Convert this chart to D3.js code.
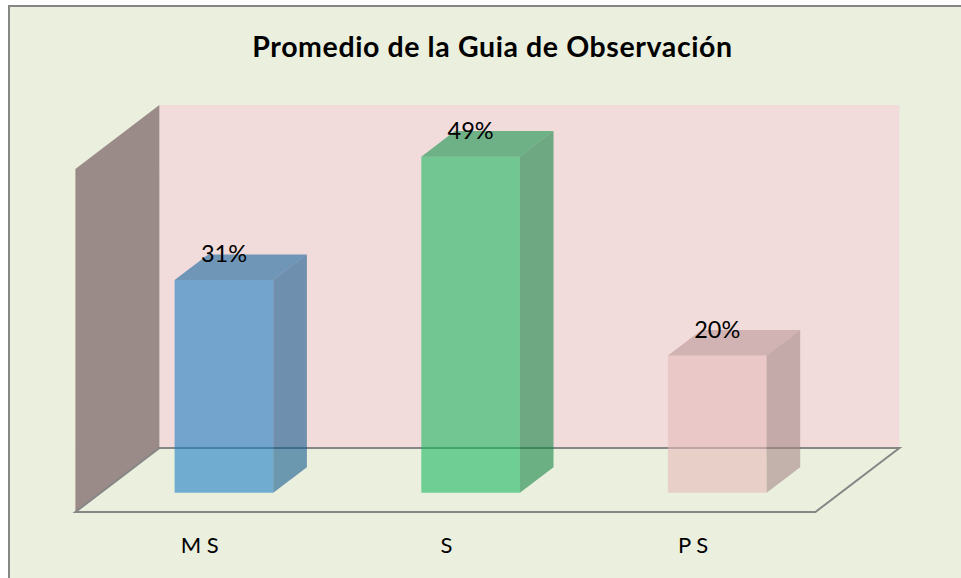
<!DOCTYPE html>
<html>
<head>
<meta charset="utf-8">
<script src="https://cdnjs.cloudflare.com/ajax/libs/d3/7.8.5/d3.min.js"></script>
<style>
  html, body { margin: 0; padding: 0; background: #fff; overflow: hidden; }
  text { font-family: Lato, "Open Sans", sans-serif; fill: #000; }
</style>
</head>
<body>
<svg id="viz"></svg>
<script>
// chart data
const categories = ['M S', 'S', 'P S'];
const values = [31, 49, 20];
const barColors = ['#1E7FC5', '#1BB761', '#E6BBBB'];
const chartTitle = 'Promedio de la Guia de Observación';

var width = 961;
var height = 578;

// front plane of the 3d box and how far the back plane is shifted
var box = { left: 75.4, right: 815.4, bottom: 512, top: 169 };
var depthX = 84;
var depthY = 64;

var svg = d3.select('#viz')
            .attr('width', width)
            .attr('height', height)
            .style('display', 'block');

// x and y on the front plane
var xScale = d3.scaleBand()
               .domain(categories)
               .range([box.left, box.right])
               .paddingInner(0.6)
               .paddingOuter(0.3);

var yScale = d3.scaleLinear()
               .domain([0, 50])
               .range([box.bottom, box.top]);

// project a point back into the box, d goes 0 (front) to 1 (back)
function px(x, d) { return x + d * depthX; }
function py(y, d) { return y - d * depthY; }
function poly(points) {
    return points.map((p) => p[0].toFixed(1) + ',' + p[1].toFixed(1)).join(' ');
}

// chart frame
svg.append('rect')
   .attr('x', 9)
   .attr('y', 6)
   .attr('width', 990)
   .attr('height', 620)
   .attr('fill', '#EBEFDE')
   .attr('stroke', '#868686')
   .attr('stroke-width', 2);

svg.append('text')
   .attr('x', 492.5)
   .attr('y', 56.5)
   .attr('text-anchor', 'middle')
   .attr('font-size', 28.5)
   .attr('font-weight', 700)
   .attr('letter-spacing', 0.6)
   .text(chartTitle);

var x0 = box.left, x1 = box.right, y0 = yScale(0), y1 = yScale(50);

// back wall
svg.append('polygon')
   .attr('points', poly([[px(x0, 1), py(y1, 1)], [px(x1, 1), py(y1, 1)], [px(x1, 1), py(y0, 1)], [px(x0, 1), py(y0, 1)]]))
   .attr('fill', '#F2DCDB');

// side wall
svg.append('polygon')
   .attr('points', poly([[x0, y1], [px(x0, 1), py(y1, 1)], [px(x0, 1), py(y0, 1)], [x0, y0]]))
   .attr('fill', '#9A8B89');

// floor outline
svg.append('polygon')
   .attr('points', poly([[x0, y0], [px(x0, 1), py(y0, 1)], [px(x1, 1), py(y0, 1)], [x1, y0]]))
   .attr('fill', '#EBEFDE')
   .attr('stroke', '#868686')
   .attr('stroke-width', 2);

// bars
var barFront = 0.3;
var barBack = 0.7;
var barOpacity = 0.6;

var bars = svg.selectAll('.bar')
              .data(categories)
              .enter()
              .append('g')
              .attr('class', 'bar');

function barCorners(d, i) {
    var l = xScale(d);
    var r = l + xScale.bandwidth();
    return { l: l, r: r, t: yScale(values[i]), b: yScale(0) };
}

// front face
bars.append('polygon')
    .attr('points', (d, i) => {
        var c = barCorners(d, i);
        return poly([[px(c.l, barFront), py(c.t, barFront)], [px(c.r, barFront), py(c.t, barFront)], [px(c.r, barFront), py(c.b, barFront)], [px(c.l, barFront), py(c.b, barFront)]]);
    })
    .attr('fill', (d, i) => barColors[i])
    .attr('fill-opacity', barOpacity);

// top face
bars.append('polygon')
    .attr('points', (d, i) => {
        var c = barCorners(d, i);
        return poly([[px(c.l, barFront), py(c.t, barFront)], [px(c.l, barBack), py(c.t, barBack)], [px(c.r, barBack), py(c.t, barBack)], [px(c.r, barFront), py(c.t, barFront)]]);
    })
    .attr('fill', (d, i) => d3.rgb(barColors[i]).darker(0.6))
    .attr('fill-opacity', barOpacity);

// side face
bars.append('polygon')
    .attr('points', (d, i) => {
        var c = barCorners(d, i);
        return poly([[px(c.r, barFront), py(c.t, barFront)], [px(c.r, barBack), py(c.t, barBack)], [px(c.r, barBack), py(c.b, barBack)], [px(c.r, barFront), py(c.b, barFront)]]);
    })
    .attr('fill', (d, i) => d3.rgb(barColors[i]).darker(0.9))
    .attr('fill-opacity', barOpacity);

// value labels
bars.append('text')
    .attr('x', (d) => px(xScale(d) + xScale.bandwidth() / 2, barFront))
    .attr('y', (d, i) => py(yScale(values[i]), barFront) - 18)
    .attr('text-anchor', 'middle')
    .attr('font-size', 23.5)
    .text((d, i) => values[i] + '%');

// category labels
svg.selectAll('.cat')
   .data(categories)
   .enter()
   .append('text')
   .attr('class', 'cat')
   .attr('x', (d) => xScale(d) + xScale.bandwidth() / 2 + 1)
   .attr('y', 553)
   .attr('text-anchor', 'middle')
   .attr('font-size', 22)
   .text((d) => d);
</script>
</body>
</html>
